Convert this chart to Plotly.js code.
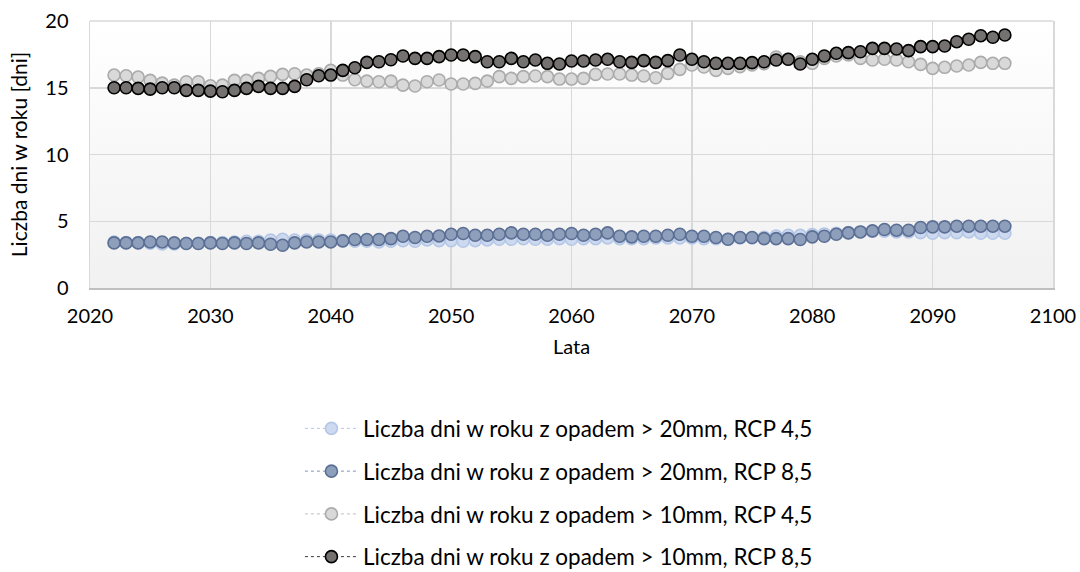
<!DOCTYPE html>
<html>
<head>
<meta charset="utf-8">
<script src="https://cdn.plot.ly/plotly-3.0.1.min.js"></script>
<style>html,body{margin:0;padding:0;background:#fff;}#chart{width:1080px;height:572px;}</style>
</head>
<body>
<div id="chart"></div>
<script>
const years = [];
for (let y = 2022; y <= 2096; y++) years.push(y);

const seriesNames = [
  "Liczba dni w roku z opadem > 20mm, RCP 4,5",
  "Liczba dni w roku z opadem > 20mm, RCP 8,5",
  "Liczba dni w roku z opadem > 10mm, RCP 4,5",
  "Liczba dni w roku z opadem > 10mm, RCP 8,5"
];

const r20_45 = [3.45,3.4,3.4,3.35,3.3,3.3,3.35,3.35,3.4,3.4,
  3.45,3.5,3.5,3.6,3.65,3.6,3.6,3.6,3.6,3.55,
  3.5,3.5,3.45,3.5,3.55,3.5,3.6,3.55,3.55,3.5,
  3.55,3.6,3.65,3.65,3.7,3.65,3.65,3.7,3.65,3.7,
  3.7,3.75,3.7,3.7,3.7,3.75,3.75,3.75,3.75,3.7,
  3.7,3.65,3.75,3.75,3.8,3.9,3.95,3.95,4.0,4.05,
  4.1,4.15,4.2,4.25,4.25,4.2,4.2,4.15,4.1,4.15,
  4.15,4.2,4.1,4.1,4.1];

const r20_85 = [3.38,3.38,3.38,3.45,3.45,3.38,3.33,3.33,3.38,3.33,
  3.38,3.33,3.38,3.28,3.2,3.38,3.45,3.45,3.45,3.53,
  3.63,3.63,3.63,3.7,3.88,3.78,3.88,3.9,4.03,4.08,
  3.95,3.95,4.03,4.13,4.03,4.03,3.95,4.03,4.08,3.95,
  4.03,4.13,3.88,3.83,3.88,3.88,3.95,4.03,3.88,3.88,
  3.78,3.65,3.78,3.78,3.7,3.7,3.7,3.63,3.83,3.88,
  4.03,4.13,4.2,4.28,4.38,4.33,4.33,4.53,4.58,4.58,
  4.63,4.63,4.63,4.63,4.63];

const r10_45 = [15.95,15.9,15.8,15.55,15.35,15.2,15.45,15.45,15.15,15.2,
  15.55,15.55,15.7,15.85,16.0,16.05,15.95,16.05,16.3,15.95,
  15.6,15.5,15.45,15.5,15.2,15.13,15.45,15.58,15.28,15.28,
  15.33,15.5,15.83,15.7,15.83,15.88,15.83,15.65,15.65,15.7,
  16.0,16.03,16.03,15.95,15.88,15.75,16.08,16.38,16.7,16.55,
  16.3,16.45,16.58,16.7,16.8,17.3,17.13,16.95,16.83,17.2,
  17.38,17.45,17.2,17.08,17.13,17.08,16.95,16.75,16.45,16.53,
  16.63,16.7,16.9,16.83,16.83];

const r10_85 = [15.0,15.0,14.95,14.9,15.0,15.0,14.8,14.8,14.75,14.7,
  14.8,14.95,15.1,14.95,14.95,15.1,15.6,15.9,15.95,16.3,
  16.5,16.9,16.95,17.1,17.38,17.2,17.2,17.33,17.45,17.45,
  17.33,16.95,16.95,17.2,16.95,17.08,16.83,16.78,17.0,17.0,
  17.08,17.13,16.95,16.9,17.03,16.9,17.03,17.45,17.13,16.95,
  16.83,16.83,16.83,16.88,16.95,17.08,17.13,16.78,17.13,17.38,
  17.58,17.63,17.7,17.95,17.95,17.9,17.78,18.08,18.08,18.13,
  18.45,18.63,18.9,18.78,18.95];

const styles = [
  {fill:'#cdd9ef', edge:'#b4c7e7', line:'#b4c7e7'},
  {fill:'#8e9fbb', edge:'#5b6f94', line:'#7f93b5'},
  {fill:'#d9d9d9', edge:'#ababab', line:'#bfbfbf'},
  {fill:'#757171', edge:'#000000', line:'#3a3a3a'}
];
const values = [r20_45, r20_85, r10_45, r10_85];

const traces = values.map((v, i) => ({
  x: years, y: v, name: seriesNames[i], type: 'scatter', mode: 'lines+markers',
  legendgroup: 'g' + i,
  line: {color: styles[i].line, width: 1, dash: 'dot'},
  marker: {symbol: 'circle', size: 12, color: styles[i].fill, line: {color: styles[i].edge, width: 1.6}}
}));

const grad = '<svg xmlns="http://www.w3.org/2000/svg" width="100" height="100" preserveAspectRatio="none"><defs><linearGradient id="g" x1="0" y1="0" x2="0" y2="1"><stop offset="0" stop-color="#ffffff"/><stop offset="1" stop-color="#f1f1f1"/></linearGradient></defs><rect width="100" height="100" fill="url(#g)"/></svg>';

const font = 'Lato, "Open Sans", sans-serif';
const layout = {
  width: 1080, height: 572,
  margin: {l: 90, r: 27, t: 21, b: 284},
  paper_bgcolor: '#ffffff', plot_bgcolor: '#ffffff',
  font: {family: font, size: 20, color: '#000000'},
  showlegend: true,
  legend: {
    orientation: 'v', x: 0.218, xanchor: 'left', xref: 'paper',
    y: 0.288, yanchor: 'top', yref: 'container',
    traceorder: 'grouped', tracegroupgap: 10.5, itemwidth: 53,
    font: {family: font, size: 22.5, color: '#000000'}, bgcolor: 'rgba(0,0,0,0)'
  },
  xaxis: {
    range: [2020, 2100], dtick: 10, tick0: 2020,
    showgrid: true, gridcolor: '#d9d9d9', gridwidth: 1.5,
    showline: true, linecolor: '#bfbfbf', linewidth: 1.5,
    zeroline: false, ticks: '', ticklabelstandoff: 9,
    tickfont: {family: font, size: 20},
    title: {text: 'Lata', font: {family: font, size: 20}, standoff: 14}
  },
  yaxis: {
    range: [0, 20], dtick: 5, tick0: 0,
    showgrid: true, gridcolor: '#d9d9d9', gridwidth: 1.5,
    showline: true, mirror: true, linecolor: '#d9d9d9', linewidth: 1.5,
    zeroline: false, ticks: '', ticklabelstandoff: 16,
    tickfont: {family: font, size: 20},
    title: {text: 'Liczba dni w roku [dni]', font: {family: font, size: 21}, standoff: 12}
  },
  shapes: [
    {type: 'line', xref: 'paper', yref: 'paper', x0: 0, x1: 1, y0: 1, y1: 1, line: {color: '#d9d9d9', width: 1.5}}
  ],
  images: [{
    source: 'data:image/svg+xml;charset=utf-8,' + encodeURIComponent(grad),
    xref: 'paper', yref: 'paper', x: 0, y: 1, sizex: 1, sizey: 1,
    sizing: 'stretch', xanchor: 'left', yanchor: 'top', layer: 'below'
  }]
};

Plotly.newPlot('chart', traces, layout, {displayModeBar: false, staticPlot: true});
</script>
</body>
</html>
